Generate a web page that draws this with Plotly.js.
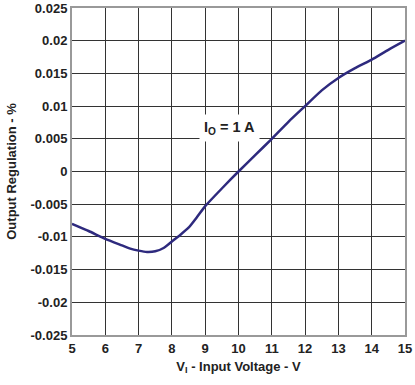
<!DOCTYPE html>
<html>
<head>
<meta charset="utf-8">
<script src="https://cdn.plot.ly/plotly-3.0.1.min.js"></script>
<style>html,body{margin:0;padding:0;background:#fff;}#chart{width:415px;height:385px;}</style>
</head>
<body>
<div id="chart"></div>
<script>
var inputVoltage = [5, 5.5, 6, 6.5, 6.75, 7, 7.25, 7.5, 7.75, 8, 8.25, 8.5, 8.75, 9, 9.5, 10, 10.5, 11, 11.5, 12, 12.5, 13, 13.5, 14, 14.5, 15];
var outputRegulation = [-0.0080, -0.0091, -0.0103, -0.0113, -0.0118, -0.0121, -0.0123, -0.0122, -0.0117, -0.0107, -0.0097, -0.0086, -0.0070, -0.0053, -0.0026, 0.0, 0.0025, 0.0050, 0.0076, 0.0100, 0.0124, 0.0143, 0.0158, 0.0171, 0.0186, 0.0200];
var xTicks = [5, 6, 7, 8, 9, 10, 11, 12, 13, 14, 15];
var yTicks = [-0.025, -0.02, -0.015, -0.01, -0.005, 0, 0.005, 0.01, 0.015, 0.02, 0.025];
var yTickLabels = ["-0.025", "-0.02", "-0.015", "-0.01", "-0.005", "0", "0.005", "0.01", "0.015", "0.02", "0.025"];

var fam = "Liberation Sans, Arial, sans-serif";

var trace = {
  x: inputVoltage,
  y: outputRegulation,
  type: "scatter",
  mode: "lines",
  line: {color: "#2e2a7e", width: 2.5, shape: "spline", smoothing: 0.5},
  hoverinfo: "skip"
};

var layout = {
  width: 415, height: 385,
  margin: {l: 72, r: 10, t: 8, b: 50},
  paper_bgcolor: "#fff", plot_bgcolor: "#fff",
  showlegend: false,
  font: {family: fam, size: 13, color: "#222"},
  xaxis: {
    range: [5, 15], tickvals: xTicks, ticktext: xTicks.map(String),
    showgrid: true, gridcolor: "#333", gridwidth: 1,
    showline: true, linecolor: "#999", linewidth: 2, mirror: true,
    zeroline: false, ticks: "", ticklen: 0,
    tickfont: {family: fam, size: 13, color: "#222", weight: "bold"},
    title: {text: "<b>V<sub>I</sub> - Input Voltage - V</b>", font: {family: fam, size: 13, color: "#222"}, standoff: 7}
  },
  yaxis: {
    range: [-0.025, 0.025], tickvals: yTicks, ticktext: yTickLabels,
    showgrid: true, gridcolor: "#333", gridwidth: 1,
    showline: true, linecolor: "#999", linewidth: 2, mirror: true,
    zeroline: false, ticks: "", ticklen: 0,
    tickfont: {family: fam, size: 13, color: "#222", weight: "bold"},
    title: {text: "<b>Output Regulation - %</b>", font: {family: fam, size: 13, color: "#222"}, standoff: 11}
  },
  annotations: [{
    x: 9.72, y: 0.0066, xref: "x", yref: "y",
    text: "<b>I<sub>O</sub> = 1 A</b>", showarrow: false,
    font: {family: fam, size: 14.5, color: "#222"},
    bgcolor: "#fff", borderpad: 4
  }]
};

Plotly.newPlot("chart", [trace], layout, {displayModeBar: false, staticPlot: true});
</script>
</body>
</html>
